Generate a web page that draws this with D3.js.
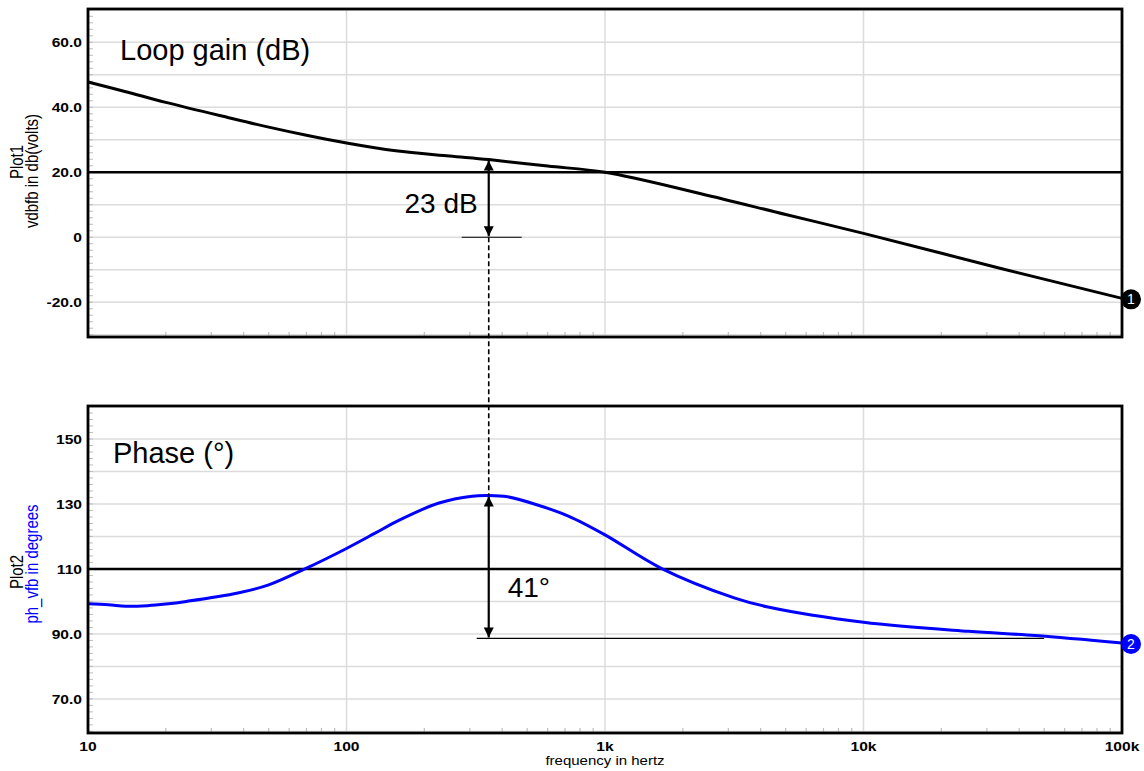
<!DOCTYPE html>
<html>
<head>
<meta charset="utf-8">
<script src="https://cdn.jsdelivr.net/npm/d3@7"></script>
<style>
  html, body { margin: 0; padding: 0; background: #fff; }
  svg { display: block; font-family: "Liberation Sans", Arial, Helvetica, sans-serif; }
</style>
</head>
<body>
<svg id="chart" width="1144" height="771"></svg>
<script>
// Loop gain of the feedback path (dB) vs frequency (Hz)
const gainFreq = [10, 14, 20, 35, 50, 70, 100, 155, 250, 355, 600, 1000, 2350, 5000, 10000, 34000, 100000];
const gainDb   = [47.8, 44.8, 41.5, 36.8, 33.9, 31.4, 29.0, 26.6, 25.0, 23.9, 21.9, 20.0, 13.4, 7.0, 1.2, -9.6, -18.8];

// Phase of the feedback path (degrees) vs frequency (Hz)
const phaseFreq = [10, 12, 14, 17, 20, 24, 38, 50, 69, 100, 129, 158, 228, 306, 355, 420, 533, 725, 1000, 1650, 3160, 4270, 10000, 25500, 46200, 100000];
const phaseDeg  = [99.3, 99.0, 98.5, 98.7, 99.2, 100.0, 102.6, 105.1, 110.0, 116.3, 121.0, 124.8, 130.3, 132.4, 132.6, 132.2, 130.0, 126.2, 120.5, 110.2, 101.1, 98.3, 93.6, 90.8, 89.5, 87.2];

// Axis ticks and labels
const freqTicks  = [10, 100, 1000, 10000, 100000];
const freqLabels = ["10", "100", "1k", "10k", "100k"];
const gainTicks  = [60, 40, 20, 0, -20];
const gainLabels = ["60.0", "40.0", "20.0", "0", "-20.0"];
const phaseTicks  = [150, 130, 110, 90, 70];
const phaseLabels = ["150", "130", "110", "90.0", "70.0"];

// Annotations: loop gain at the phase peak, phase boost, reference levels
const markFreq = 355;
const gainRef = 20, gainZero = 0, gainAtMark = 23.9;
const phaseRef = 110, phasePeak = 132.6, phaseBase = 88.6, phaseBaseEnd = 50000;

const svg = d3.select("#chart");
const plotLeft = 88, plotRight = 1122;
const x = d3.scaleLog().domain([10, 100000]).range([plotLeft, plotRight]);
const yG = d3.scaleLinear().domain([-30.7, 70.25]).range([337, 9]);
const yP = d3.scaleLinear().domain([59.5, 160.15]).range([733, 406]);

const STRETCH = 1.2;   // horizontal widening of the small axis text
const gridColor = "#dcdcdc", minorColor = "#bdbdbd";

function drawPanel(y, majorTicks, labels, minorStep) {
  const g = svg.append("g");
  const [y0, y1] = y.domain();
  // horizontal grid every 10 units
  const hGrid = d3.range(Math.ceil(y0 / 10) * 10, y1, 10);
  g.selectAll(".hg").data(hGrid).join("line")
    .attr("x1", plotLeft).attr("x2", plotRight)
    .attr("y1", d => y(d)).attr("y2", d => y(d))
    .attr("stroke", gridColor).attr("stroke-width", 1.5);
  // vertical grid at decades
  g.selectAll(".vg").data(freqTicks.slice(1, -1)).join("line")
    .attr("x1", d => x(d)).attr("x2", d => x(d))
    .attr("y1", y.range()[1]).attr("y2", y.range()[0])
    .attr("stroke", gridColor).attr("stroke-width", 1.5);
  // minor ticks on the left edge
  const minorY = d3.range(Math.ceil(y0 / minorStep) * minorStep, y1, minorStep);
  g.selectAll(".my").data(minorY).join("line")
    .attr("x1", plotLeft).attr("x2", plotLeft + 5)
    .attr("y1", d => y(d)).attr("y2", d => y(d))
    .attr("stroke", minorColor).attr("stroke-width", 1);
  // log minor ticks on the bottom edge
  const minorX = [];
  for (let dec = 10; dec < 100000; dec *= 10) for (let k = 2; k <= 9; k++) minorX.push(dec * k);
  g.selectAll(".mx").data(minorX).join("line")
    .attr("x1", d => x(d)).attr("x2", d => x(d))
    .attr("y1", y.range()[0]).attr("y2", y.range()[0] - 5)
    .attr("stroke", minorColor).attr("stroke-width", 1.2);
  // y tick labels
  const ax = d3.axisLeft(y).tickValues(majorTicks).tickSize(0)
    .tickFormat((d, i) => labels[i]);
  const axg = g.append("g").attr("transform", `translate(${plotLeft - 6},0)`).call(ax);
  axg.select(".domain").remove();
  axg.selectAll("text")
    .attr("font-family", "Liberation Sans, Arial, sans-serif")
    .attr("font-size", 13).attr("font-weight", "bold").attr("fill", "#000")
    .attr("x", 0).attr("dy", "0.36em")
    .attr("transform", `scale(${STRETCH},1)`);
  return g;
}

drawPanel(yG, gainTicks, gainLabels, 2);
drawPanel(yP, phaseTicks, phaseLabels, 2);

// reference level lines
svg.append("line").attr("x1", plotLeft).attr("x2", plotRight)
  .attr("y1", yG(gainRef)).attr("y2", yG(gainRef))
  .attr("stroke", "#000").attr("stroke-width", 2.5);
svg.append("line").attr("x1", plotLeft).attr("x2", plotRight)
  .attr("y1", yP(phaseRef)).attr("y2", yP(phaseRef))
  .attr("stroke", "#000").attr("stroke-width", 2.5);

// curves
const gainLine = d3.line().x(d => x(d[0])).y(d => yG(d[1])).curve(d3.curveCatmullRom.alpha(0.5));
const phaseLine = d3.line().x(d => x(d[0])).y(d => yP(d[1])).curve(d3.curveCatmullRom.alpha(0.5));
svg.append("path").datum(d3.zip(gainFreq, gainDb)).attr("d", gainLine)
  .attr("fill", "none").attr("stroke", "#000").attr("stroke-width", 3);
svg.append("path").datum(d3.zip(phaseFreq, phaseDeg)).attr("d", phaseLine)
  .attr("fill", "none").attr("stroke", "#0000ff").attr("stroke-width", 3);

// annotations
const xm = x(markFreq);
svg.append("defs").append("marker")
  .attr("id", "ah").attr("viewBox", "0 0 10 10").attr("refX", 10).attr("refY", 5)
  .attr("markerWidth", 10).attr("markerHeight", 11).attr("markerUnits", "userSpaceOnUse")
  .attr("orient", "auto-start-reverse")
  .append("path").attr("d", "M0,0 L10,5 L0,10 Z").attr("fill", "#000");

svg.append("line").attr("x1", xm - 27).attr("x2", xm + 33)
  .attr("y1", yG(gainZero)).attr("y2", yG(gainZero))
  .attr("stroke", "#000").attr("stroke-width", 1.2);
svg.append("line").attr("x1", xm).attr("x2", xm)
  .attr("y1", yG(gainAtMark) + 1).attr("y2", yG(gainZero) - 1)
  .attr("stroke", "#000").attr("stroke-width", 2.2)
  .attr("marker-start", "url(#ah)").attr("marker-end", "url(#ah)");
svg.append("line").attr("x1", xm).attr("x2", xm)
  .attr("y1", yG(gainZero)).attr("y2", yP(phasePeak))
  .attr("stroke", "#000").attr("stroke-width", 1.6).attr("stroke-dasharray", "5,3");

svg.append("line").attr("x1", xm - 12).attr("x2", x(phaseBaseEnd))
  .attr("y1", yP(phaseBase)).attr("y2", yP(phaseBase))
  .attr("stroke", "#000").attr("stroke-width", 1.2);
svg.append("line").attr("x1", xm).attr("x2", xm)
  .attr("y1", yP(phasePeak) + 1).attr("y2", yP(phaseBase) - 1)
  .attr("stroke", "#000").attr("stroke-width", 2.2)
  .attr("marker-start", "url(#ah)").attr("marker-end", "url(#ah)");

const bigFont = 28;
svg.append("text").attr("x", 120).attr("y", 60).attr("font-size", 29).text("Loop gain (dB)");
svg.append("text").attr("x", 113).attr("y", 463).attr("font-size", 29).text("Phase (°)");
svg.append("text").attr("x", xm - 11).attr("y", 213).attr("text-anchor", "end")
  .attr("font-size", bigFont).text("23 dB");
svg.append("text").attr("x", xm + 19).attr("y", 597).attr("font-size", bigFont).text("41°");

// panel frames
[yG, yP].forEach(y => {
  svg.append("rect").attr("x", plotLeft).attr("y", y.range()[1])
    .attr("width", plotRight - plotLeft).attr("height", y.range()[0] - y.range()[1])
    .attr("fill", "none").attr("stroke", "#000").attr("stroke-width", 2.8);
});

// x tick labels under the lower panel
svg.append("g").selectAll("text").data(freqTicks).join("text")
  .attr("transform", d => `translate(${x(d)},751) scale(${STRETCH},1)`)
  .attr("text-anchor", "middle").attr("font-size", 13).attr("font-weight", "bold")
  .text((d, i) => freqLabels[i]);
svg.append("text")
  .attr("transform", `translate(${(plotLeft + plotRight) / 2},765) scale(${STRETCH},1)`)
  .attr("text-anchor", "middle").attr("font-size", 12.5).text("frequency in hertz");

// rotated y-axis titles
function yTitle(cx, cy, txt, color) {
  svg.append("text")
    .attr("transform", `translate(${cx},${cy}) scale(${STRETCH},1) rotate(-90)`)
    .attr("text-anchor", "middle").attr("font-size", 15).attr("fill", color).text(txt);
}
yTitle(23, 162, "Plot1", "#000");
yTitle(38, 171, "vdbfb in db(volts)", "#000");
yTitle(23, 572, "Plot2", "#000");
yTitle(38, 564, "ph_vfb in degrees", "#0000ff");

// trace end markers
function endMarker(cx, cy, label, color) {
  svg.append("circle").attr("cx", cx).attr("cy", cy).attr("r", 10).attr("fill", color);
  svg.append("text").attr("x", cx).attr("y", cy + 5).attr("text-anchor", "middle")
    .attr("font-size", 14).attr("fill", "#fff").text(label);
}
endMarker(plotRight + 9, yG(gainDb[gainDb.length - 1]) + 1, "1", "#000");
endMarker(plotRight + 9, yP(phaseDeg[phaseDeg.length - 1]) + 1, "2", "#0000ff");
</script>
</body>
</html>
